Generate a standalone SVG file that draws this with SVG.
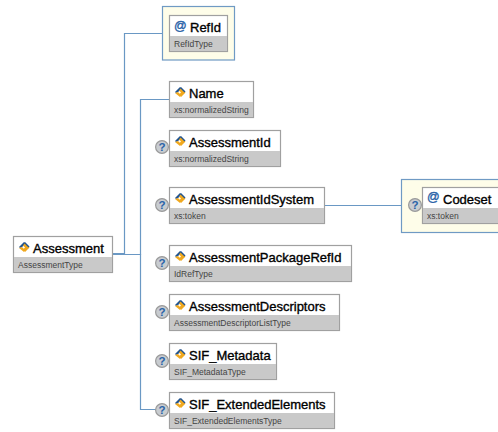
<svg xmlns="http://www.w3.org/2000/svg" width="498" height="432" viewBox="0 0 498 432">
<style>
text{font-family:"Liberation Sans",Arial,sans-serif}
.t{font-size:13px;fill:#000;stroke:#000;stroke-width:.35px}
.s{font-size:8.500px;fill:#444}
.box{fill:#fff;stroke:#a0a0a0;stroke-width:1.200}
.band{fill:#c9c9c9}
.attr{fill:#fefde9;stroke:#6f9ac4;stroke-width:1.200}
.c{fill:none;stroke:#6a98c4;stroke-width:1.200}
.at{font-size:12.500px;fill:#2a63a8;stroke:#2a63a8;stroke-width:.4px}
.q{font-size:11.500px;fill:#2a63a8;font-weight:bold;text-anchor:middle}
</style>
<defs>
<g id="ico">
<polygon points="0,0 5,-5 7,-3 3,0 1,1" fill="#23558f"/>
<polygon points="0,1 3,0 6,3 5,5" fill="#f0a81e"/>
<polygon points="6,-4 10.500,0.500 6,5 4,2.500 6,0.500 4,-1.500" fill="#f0a81e"/>
<polygon points="6,-5 10.500,-0.500 9.500,0.500 5,-4" fill="#23558f"/>
</g>
<g id="qm">
<circle cx="0" cy="0" r="6.400" fill="#c8ccd0" stroke="#9a9a9a" stroke-width="1.200"/>
<text class="q" x="0" y="4.200">?</text>
</g>
</defs>
<g id="connectors">
<path class="c" d="M112.500 253.500H124.500V33.500H162"/>
<path class="c" d="M112.500 254.500H140.500V99.500H169.500"/>
<path class="c" d="M140.500 254H140.500V409.500H157"/>
<path class="c" d="M324.500 205.500H401"/>
</g>
<g id="node-refid">
<rect class="attr" x="162.500" y="6.500" width="72" height="53.500"/>
<rect class="box" x="169.500" y="15.500" width="58" height="36"/>
<rect class="band" x="170" y="36" width="57" height="15"/>
<text class="at" x="174" y="29.500">@</text>
<text class="t" x="190" y="32">RefId</text>
<text class="s" x="174" y="46.500">RefIdType</text>
</g>
<g id="node-name">
<rect class="box" x="169.500" y="81.500" width="84" height="36"/>
<rect class="band" x="170" y="102" width="83" height="15"/>
<use href="#ico" x="175" y="92"/>
<text class="t" x="189" y="98">Name</text>
<text class="s" x="174" y="113">xs:normalizedString</text>
</g>
<g id="node-assessmentid">
<rect class="box" x="169.500" y="130.500" width="111" height="36"/>
<rect class="band" x="170" y="151" width="110" height="15"/>
<use href="#qm" x="162" y="147"/>
<use href="#ico" x="175" y="141"/>
<text class="t" x="189" y="147">AssessmentId</text>
<text class="s" x="174" y="162">xs:normalizedString</text>
</g>
<g id="node-assessmentidsystem">
<rect class="box" x="169.500" y="187.500" width="155" height="36"/>
<rect class="band" x="170" y="208" width="154" height="15"/>
<use href="#qm" x="162" y="205"/>
<use href="#ico" x="175" y="198"/>
<text class="t" x="189" y="204">AssessmentIdSystem</text>
<text class="s" x="174" y="219">xs:token</text>
</g>
<g id="node-codeset">
<rect class="attr" x="401.500" y="179.500" width="100" height="53"/>
<rect class="box" x="422.500" y="187.500" width="80" height="36"/>
<rect class="band" x="423" y="208" width="75" height="15"/>
<use href="#qm" x="415" y="205"/>
<text class="at" x="427" y="201">@</text>
<text class="t" x="443" y="204">Codeset</text>
<text class="s" x="427" y="219">xs:token</text>
</g>
<g id="node-assessmentpackagerefid">
<rect class="box" x="169.500" y="245.500" width="182" height="36"/>
<rect class="band" x="170" y="266" width="181" height="15"/>
<use href="#qm" x="162" y="263"/>
<use href="#ico" x="175" y="256"/>
<text class="t" x="189" y="262">AssessmentPackageRefId</text>
<text class="s" x="174" y="277">IdRefType</text>
</g>
<g id="node-assessmentdescriptors">
<rect class="box" x="169.500" y="294.500" width="170" height="36"/>
<rect class="band" x="170" y="315" width="169" height="15"/>
<use href="#qm" x="162" y="312"/>
<use href="#ico" x="175" y="305"/>
<text class="t" x="189" y="311">AssessmentDescriptors</text>
<text class="s" x="174" y="326">AssessmentDescriptorListType</text>
</g>
<g id="node-sif-metadata">
<rect class="box" x="169.500" y="343.500" width="107" height="36"/>
<rect class="band" x="170" y="364" width="106" height="15"/>
<use href="#qm" x="162" y="361"/>
<use href="#ico" x="175" y="354"/>
<text class="t" x="189" y="360">SIF_Metadata</text>
<text class="s" x="174" y="375">SIF_MetadataType</text>
</g>
<g id="node-sif-extendedelements">
<rect class="box" x="169.500" y="392.500" width="165" height="36"/>
<rect class="band" x="170" y="413" width="164" height="15"/>
<use href="#qm" x="162" y="410"/>
<use href="#ico" x="175" y="403"/>
<text class="t" x="189" y="409">SIF_ExtendedElements</text>
<text class="s" x="174" y="424">SIF_ExtendedElementsType</text>
</g>
<g id="node-assessment">
<rect class="box" x="13.500" y="236.500" width="99" height="36"/>
<rect class="band" x="14" y="257" width="98" height="15"/>
<use href="#ico" x="19" y="247"/>
<text class="t" x="33" y="253">Assessment</text>
<text class="s" x="18" y="268">AssessmentType</text>
</g>
</svg>
